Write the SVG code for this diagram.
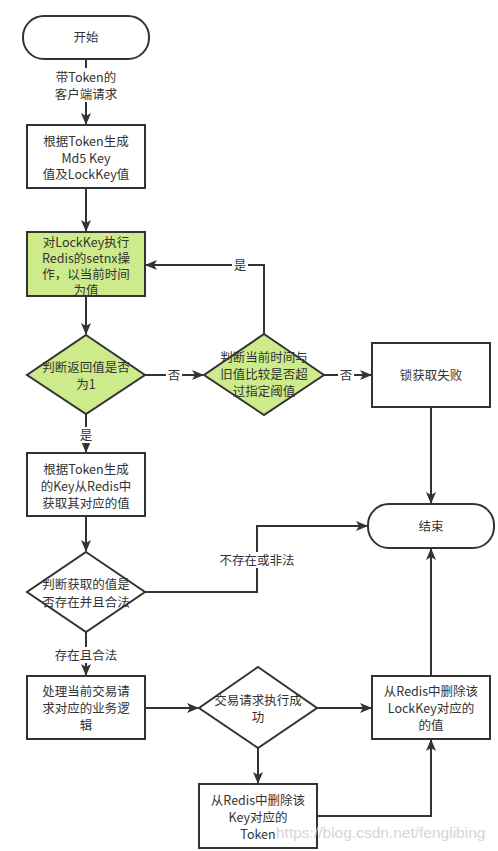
<svg xmlns="http://www.w3.org/2000/svg" width="498" height="851" viewBox="0 0 498 851">
<defs>
<marker id="arr" markerUnits="userSpaceOnUse" markerWidth="12" markerHeight="10" refX="11" refY="5" orient="auto">
<path d="M0,0 L12,5 L0,10 L3,5 Z" fill="#333"/>
</marker>
<style>
.n{fill:#fff;stroke:#333;stroke-width:2}
.g{fill:#cdeb8b;stroke:#333;stroke-width:2}
.e{fill:none;stroke:#333;stroke-width:2;marker-end:url(#arr)}
text{font-family:"Microsoft YaHei","Noto Sans CJK SC","Noto Sans",sans-serif;font-size:12.5px;fill:#333;text-anchor:middle}
.bg{fill:#fff}
.wm{fill:#ccc;font-family:"Liberation Sans",Arial,sans-serif;font-size:15.5px;text-anchor:start;opacity:0.8}
</style>
</defs>
<rect width="498" height="851" fill="#fff"/>
<g id="connectors">
<path class="e" d="M86,59 V124"/>
<path class="e" d="M86,188 V231"/>
<path class="e" d="M86,296 V334"/>
<path class="e" d="M145,375 H203"/>
<path class="e" d="M264,334 V265 H146"/>
<path class="e" d="M324,375 H371"/>
<path class="e" d="M431,407 V503"/>
<path class="e" d="M86,414 V452"/>
<path class="e" d="M86,516 V551"/>
<path class="e" d="M145,592 H257 V526 H367"/>
<path class="e" d="M86,632 V675"/>
<path class="e" d="M145,708 H198"/>
<path class="e" d="M317,708 H371"/>
<path class="e" d="M431,676 V549"/>
<path class="e" d="M258,748 V783"/>
<path class="e" d="M317,816 H431 V740"/>
<rect class="bg" x="48" y="68" width="76" height="34"/>
<text x="86" y="82">带Token的<tspan x="86" dy="17">客户端请求</tspan></text>
<rect class="bg" x="166" y="367" width="16" height="16"/>
<text x="174" y="380">否</text>
<rect class="bg" x="232" y="257" width="16" height="16"/>
<text x="240" y="270">是</text>
<rect class="bg" x="338" y="367" width="16" height="16"/>
<text x="346" y="380">否</text>
<rect class="bg" x="78" y="427" width="16" height="16"/>
<text x="86" y="440">是</text>
<rect class="bg" x="217" y="552" width="80" height="16"/>
<text x="257" y="565">不存在或非法</text>
<rect class="bg" x="52" y="647" width="68" height="16"/>
<text x="86" y="660">存在且合法</text>
</g>
<g id="start"><rect class="n" x="23" y="16" width="126" height="43" rx="21" ry="21"/><text x="86" y="42">开始</text></g>
<g id="gen-key"><rect class="n" x="27" y="125" width="118" height="63"/><text x="86" y="146">根据Token生成<tspan x="86" dy="16.5">Md5 Key</tspan><tspan x="86" dy="16.5">值及LockKey值</tspan></text></g>
<g id="setnx"><rect class="g" x="27" y="232" width="118" height="64"/><text x="86" y="247">对LockKey执行<tspan x="86" dy="16">Redis的setnx操</tspan><tspan x="86" dy="16">作，以当前时间</tspan><tspan x="86" dy="15.5">为值</tspan></text></g>
<g id="check-ret"><polygon class="g" points="86,335 145,375 86,414 27,375"/><text x="86" y="372">判断返回值是否<tspan x="86" dy="17">为1</tspan></text></g>
<g id="check-time"><polygon class="g" points="264,334 324,375 264,415 204,375"/><text x="264" y="362">判断当前时间与<tspan x="264" dy="17">旧值比较是否超</tspan><tspan x="264" dy="17">过指定阈值</tspan></text></g>
<g id="fail"><rect class="n" x="372" y="343" width="118" height="64"/><text x="431" y="380">锁获取失败</text></g>
<g id="end"><rect class="n" x="368" y="504" width="126" height="44" rx="21" ry="21"/><text x="431" y="531">结束</text></g>
<g id="get-value"><rect class="n" x="27" y="453" width="118" height="63"/><text x="86" y="474">根据Token生成<tspan x="86" dy="17">的Key从Redis中</tspan><tspan x="86" dy="17">获取其对应的值</tspan></text></g>
<g id="check-value"><polygon class="n" points="86,552 145,592 86,632 27,592"/><text x="86" y="589">判断获取的值是<tspan x="86" dy="18">否存在并且合法</tspan></text></g>
<g id="process"><rect class="n" x="27" y="676" width="118" height="63"/><text x="86" y="696">处理当前交易请<tspan x="86" dy="17">求对应的业务逻</tspan><tspan x="86" dy="17">辑</tspan></text></g>
<g id="success"><polygon class="n" points="258,667 317,708 258,748 199,708"/><text x="258" y="705">交易请求执行成<tspan x="258" dy="17">功</tspan></text></g>
<g id="del-lock"><rect class="n" x="372" y="676" width="118" height="63"/><text x="431" y="696">从Redis中删除该<tspan x="431" dy="17">LockKey对应的</tspan><tspan x="431" dy="17">的值</tspan></text></g>
<g id="del-token"><rect class="n" x="199" y="784" width="118" height="64"/><text x="258" y="805">从Redis中删除该<tspan x="258" dy="17">Key对应的</tspan><tspan x="258" dy="17">Token</tspan></text></g>
<text class="wm" x="276" y="838">https://blog.csdn.net/fenglibing</text>
</svg>
